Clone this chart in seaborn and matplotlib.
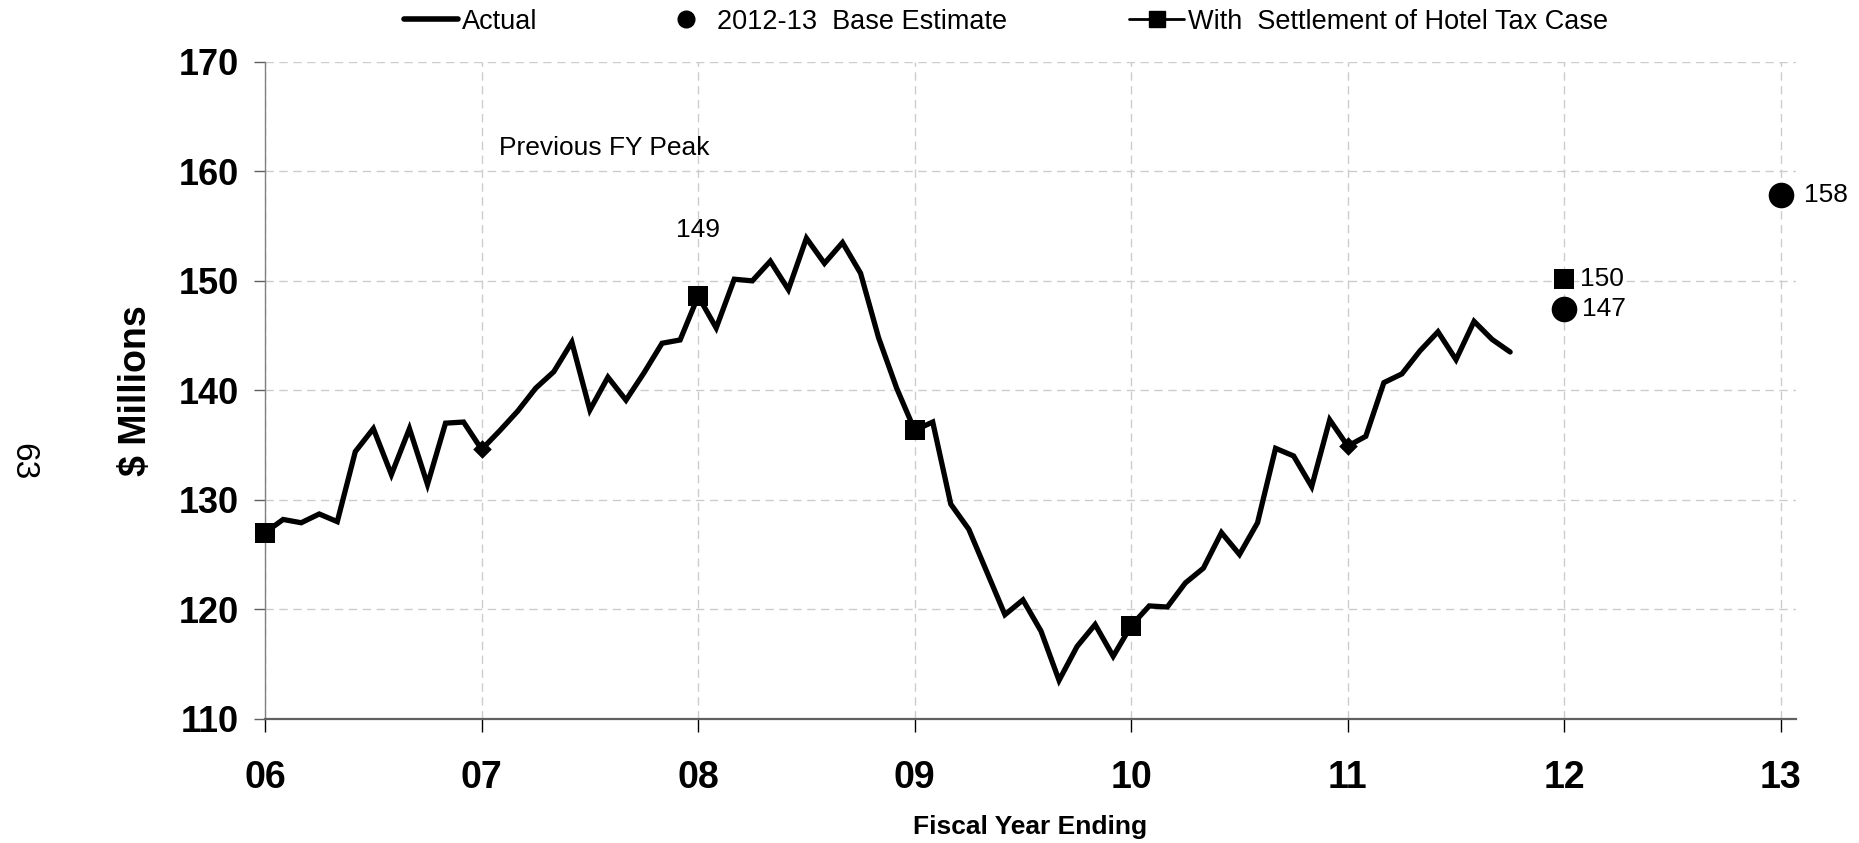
import numpy as np
import pandas as pd
import matplotlib
matplotlib.use("Agg")
import matplotlib.pyplot as plt
from matplotlib.lines import Line2D
import seaborn as sns

# Monthly actual collections, $ millions, starting with FY06 (one value per month)
actual = [
    127.0, 128.2, 127.9, 128.7, 128.0, 134.4, 136.5, 132.3, 136.5, 131.4, 137.0, 137.1,
    134.6, 136.3, 138.1, 140.2, 141.7, 144.4, 138.2, 141.2, 139.1, 141.6, 144.3, 144.6,
    148.6, 145.7, 150.15, 150.0, 151.8, 149.2, 153.9, 151.6, 153.5, 150.7, 144.8, 140.2,
    136.35, 137.1, 129.6, 127.3, 123.4, 119.5, 120.85, 118.0, 113.5, 116.6, 118.6, 115.7,
    118.5, 120.3, 120.2, 122.4, 123.75, 127.0, 125.0, 127.9, 134.7, 134.0, 131.2, 137.3,
    134.9, 135.8, 140.7, 141.5, 143.6, 145.35, 142.8, 146.3, 144.65, 143.5,
]
start_year = 6

# Year-end points with the hotel tax settlement
settle_years = [6, 8, 9, 10, 12]
settle_vals = [127.0, 148.6, 136.35, 118.5, 150.2]

# Year-end points drawn as diamonds on the actual line
diamond_years = [7, 11]
diamond_vals = [134.6, 134.9]

# 2012-13 base estimate
base_years = [12, 13]
base_vals = [147.4, 157.8]

year_ticks = [6, 7, 8, 9, 10, 11, 12, 13]
year_labels = ["06", "07", "08", "09", "10", "11", "12", "13"]
value_ticks = [110, 120, 130, 140, 150, 160, 170]

sns.set_theme(style="white")
plt.rcParams["font.family"] = ["Liberation Sans", "DejaVu Sans"]
plt.rcParams["text.color"] = "black"
plt.rcParams["axes.labelcolor"] = "black"
plt.rcParams["xtick.color"] = "black"
plt.rcParams["ytick.color"] = "black"

df = pd.DataFrame({
    "year": start_year + np.arange(len(actual)) / 12.0,
    "value": actual,
})

fig = plt.figure(figsize=(18.59, 8.43), dpi=100)
ax = fig.add_axes([0.1426, 0.1475, 0.8235, 0.779])

sns.lineplot(data=df, x="year", y="value", ax=ax, color="black",
             linewidth=3.8, solid_joinstyle="miter", zorder=3)
sns.scatterplot(x=diamond_years, y=diamond_vals, ax=ax, marker="D", s=90,
                color="black", edgecolor="black", linewidth=0, zorder=4,
                clip_on=False)
sns.scatterplot(x=settle_years, y=settle_vals, ax=ax, marker="s", s=200,
                color="black", edgecolor="black", linewidth=0, zorder=4,
                clip_on=False)
sns.scatterplot(x=base_years, y=base_vals, ax=ax, marker="o", s=340,
                color="black", edgecolor="black", linewidth=0, zorder=4,
                clip_on=False)

# Value labels
ax.annotate(f"{settle_vals[1]:.0f}", (settle_years[1], settle_vals[1]),
            xytext=(0, 48), textcoords="offset points", ha="center", va="center",
            fontsize=19)
ax.annotate(f"{settle_vals[-1]:.0f}", (settle_years[-1], settle_vals[-1]),
            xytext=(11, 0), textcoords="offset points", ha="left", va="center",
            fontsize=19)
ax.annotate(f"{base_vals[0]:.0f}", (base_years[0], base_vals[0]),
            xytext=(13, 0), textcoords="offset points", ha="left", va="center",
            fontsize=19)
ax.annotate(f"{base_vals[1]:.0f}", (base_years[1], base_vals[1]),
            xytext=(17, 0), textcoords="offset points", ha="left", va="center",
            fontsize=19)

ax.text(7.08, 162.15, "Previous FY Peak", ha="left", va="center", fontsize=19)

ax.set_xlim(6, 13.07)
ax.set_ylim(110, 170)
ax.set_xticks(year_ticks)
ax.set_xticklabels(year_labels)
ax.set_yticks(value_ticks)

ax.grid(True, linestyle=(0, (6, 4)), color="#cccccc", linewidth=1.0, zorder=0)
ax.set_axisbelow(True)
for side in ["top", "right"]:
    ax.spines[side].set_visible(False)
ax.spines["left"].set_color("#808080")
ax.spines["left"].set_linewidth(1.0)
ax.spines["bottom"].set_color("#606060")
ax.spines["bottom"].set_linewidth(1.6)

ax.tick_params(axis="y", which="major", direction="out", length=8, width=1,
               color="#606060", pad=11, labelsize=26)
ax.tick_params(axis="x", which="major", direction="out", length=9, width=1,
               color="black", pad=21, labelsize=27)
ax.tick_params(left=True, bottom=True)
for lab in ax.get_xticklabels() + ax.get_yticklabels():
    lab.set_fontweight("bold")

ax.set_xlabel("")
ax.set_ylabel("")
fig.text(0.073, 0.537, "$ Millions", rotation=90, ha="center", va="center",
         fontsize=27, fontweight="bold")
fig.text(0.554, 0.019, "Fiscal Year Ending", ha="center", va="center",
         fontsize=19, fontweight="bold")
fig.text(0.012, 0.452, "63", rotation=-90, ha="center", va="center", fontsize=24)

handles = [
    Line2D([], [], color="black", linewidth=4),
    Line2D([], [], color="black", linestyle="none", marker="o", markersize=12),
    Line2D([], [], color="black", linewidth=2, marker="s", markersize=11),
]
labels = ["Actual", "2012-13  Base Estimate", "With  Settlement of Hotel Tax Case"]
fig.legend(handles, labels, loc="center", bbox_to_anchor=(0.541, 0.974), ncol=3,
           frameon=False, fontsize=19.5, handlelength=2.0, handletextpad=0.15,
           columnspacing=4.5, borderaxespad=0)

fig.savefig("out.png", dpi=100)
